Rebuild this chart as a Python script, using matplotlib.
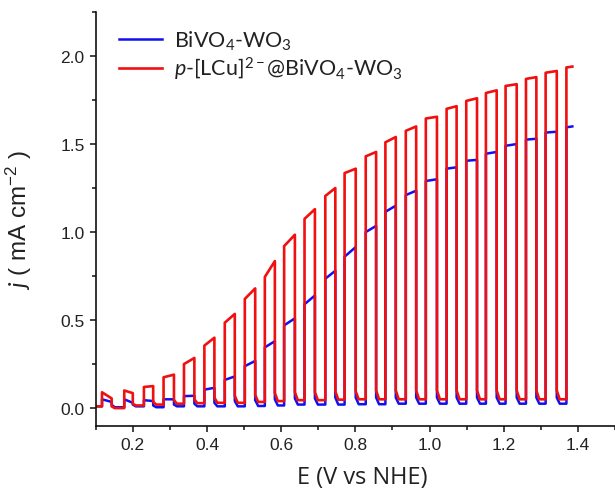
import matplotlib
matplotlib.use("Agg")
import matplotlib.pyplot as plt

# chopped-light LSV
# potentials where the light switches on / off (V vs NHE)
e_on = [0.117, 0.177, 0.230, 0.283, 0.338, 0.393, 0.448, 0.502, 0.556, 0.608, 0.663, 0.719,
        0.771, 0.828, 0.881, 0.936, 0.990, 1.046, 1.099, 1.152, 1.205, 1.260, 1.313, 1.369]
e_off = [0.143, 0.200, 0.255, 0.311, 0.366, 0.420, 0.475, 0.530, 0.583, 0.637, 0.691, 0.746,
         0.801, 0.856, 0.909, 0.964, 1.020, 1.073, 1.128, 1.181, 1.235, 1.288, 1.343, 1.385]

# p-[LCu]2-@BiVO4-WO3 (red): current at start / end of each light pulse
red_on_a = [0.090, 0.100, 0.120, 0.175, 0.250, 0.355, 0.485, 0.620, 0.745, 0.920, 1.075, 1.205,
            1.335, 1.430, 1.510, 1.575, 1.645, 1.700, 1.745, 1.790, 1.830, 1.870, 1.905, 1.935]
red_on_b = [0.055, 0.085, 0.125, 0.190, 0.285, 0.400, 0.535, 0.680, 0.835, 0.985, 1.130, 1.250,
            1.360, 1.455, 1.540, 1.600, 1.655, 1.715, 1.760, 1.805, 1.840, 1.880, 1.915, 1.940]
# dark current right after switching off, and the settled dark current
red_tail = [0.010, 0.025, 0.035, 0.045, 0.050, 0.060, 0.070, 0.075, 0.085, 0.090, 0.090, 0.095,
            0.095, 0.100, 0.100, 0.100, 0.100, 0.100, 0.100, 0.100, 0.100, 0.100, 0.100]
red_dark = [0.000, 0.015, 0.020, 0.025, 0.028, 0.030, 0.030, 0.035, 0.040, 0.045, 0.045, 0.048,
            0.050, 0.050, 0.050, 0.050, 0.050, 0.050, 0.050, 0.050, 0.050, 0.050, 0.050]
red_start = 0.010

# BiVO4-WO3 (blue)
blue_on_a = [0.050, 0.050, 0.045, 0.050, 0.068, 0.105, 0.160, 0.238, 0.345, 0.470, 0.590, 0.735,
             0.860, 1.000, 1.115, 1.210, 1.290, 1.360, 1.405, 1.445, 1.490, 1.525, 1.565, 1.595]
blue_on_b = [0.035, 0.030, 0.040, 0.050, 0.070, 0.115, 0.180, 0.268, 0.380, 0.510, 0.640, 0.780,
             0.915, 1.035, 1.150, 1.235, 1.300, 1.368, 1.410, 1.455, 1.500, 1.530, 1.570, 1.600]
blue_tail = [0.020, 0.020, 0.015, 0.020, 0.025, 0.030, 0.040, 0.045, 0.050, 0.055, 0.055, 0.060,
             0.060, 0.060, 0.060, 0.060, 0.060, 0.060, 0.060, 0.060, 0.060, 0.060, 0.060]
blue_dark = [0.005, 0.010, 0.005, 0.010, 0.010, 0.010, 0.010, 0.012, 0.015, 0.020, 0.020, 0.020,
             0.022, 0.022, 0.025, 0.025, 0.025, 0.025, 0.025, 0.025, 0.025, 0.025, 0.025]
blue_start = 0.010

E_START = 0.1


def build_trace(start, on_a, on_b, tail, dark, settle=0.008):
    # step-like trace: dark -> light pulse -> dark transient -> dark ...
    xs, ys = [E_START], [start]
    prev = start
    for i in range(len(e_on)):
        xs += [e_on[i], e_on[i], e_off[i]]
        ys += [prev, on_a[i], on_b[i]]
        if i < len(dark):
            xs += [e_off[i], e_off[i] + settle]
            ys += [tail[i], dark[i]]
            prev = dark[i]
    return xs, ys


plt.rcParams['mathtext.fontset'] = 'custom'
plt.rcParams['mathtext.rm'] = 'Lato'
plt.rcParams['mathtext.it'] = 'Lato:italic'
plt.rcParams['mathtext.default'] = 'regular'

fig = plt.figure(figsize=(6.15, 4.89), dpi=100)
ax = fig.add_axes([0.1556, 0.1274, 0.8444, 0.846])

bx, by = build_trace(blue_start, blue_on_a, blue_on_b, blue_tail, blue_dark)
rx, ry = build_trace(red_start, red_on_a, red_on_b, red_tail, red_dark)
ax.plot(bx, by, color='#1010f0', lw=1.8, label=r'BiVO$_4$-WO$_3$')
ax.plot(rx, ry, color='#f01010', lw=1.9, label=r'$\mathit{p}$-[LCu]$^{2-}$@BiVO$_4$-WO$_3$')

ax.set_xlim(0.1, 1.5)
ax.set_ylim(-0.1, 2.25)
ax.set_xticks([0.2, 0.4, 0.6, 0.8, 1.0, 1.2, 1.4])
ax.set_xticks([0.1, 0.3, 0.5, 0.7, 0.9, 1.1, 1.3, 1.5], minor=True)
ax.set_yticks([0.0, 0.5, 1.0, 1.5, 2.0])
ax.set_yticks([0.25, 0.75, 1.25, 1.75, 2.25], minor=True)

for s in ['top', 'right']:
    ax.spines[s].set_visible(False)
for s in ['left', 'bottom']:
    ax.spines[s].set_linewidth(1.2)
    ax.spines[s].set_color('#111111')

ax.tick_params(which='major', direction='out', length=4.5, width=1.1, color='#111111',
               labelsize=12.5, labelcolor='#222222')
ax.tick_params(which='minor', direction='out', length=2.6, width=1.1, color='#111111')
for lab in ax.get_xticklabels() + ax.get_yticklabels():
    lab.set_fontfamily('Liberation Sans')

ax.set_xlabel('E (V vs NHE)', fontsize=17, family='Open Sans', color='#222222')
ax.xaxis.set_label_coords(0.513, -0.094)
ax.set_ylabel(r'$\mathit{j}$ ( mA cm$^{-2}$ )', fontsize=17.5, family='Liberation Sans',
              color='#222222')
ax.yaxis.set_label_coords(-0.118, 0.5)

leg = ax.legend(loc='upper left', bbox_to_anchor=(119 / 615, 1 - 30 / 489),
                bbox_transform=fig.transFigure, frameon=False, borderpad=0,
                borderaxespad=0, handlelength=2.0, handletextpad=0.55,
                labelspacing=0.12, prop={'family': 'Lato', 'size': 15.5})
for t in leg.get_texts():
    t.set_color('#222222')

fig.savefig('out.png', dpi=100)
